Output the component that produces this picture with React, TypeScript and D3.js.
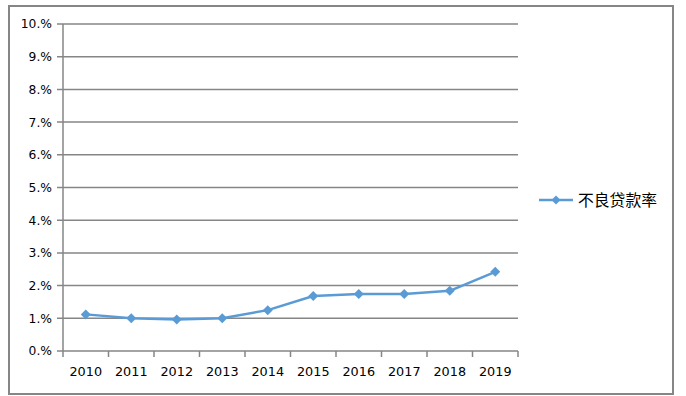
import * as d3 from "d3";

const years = ["2010", "2011", "2012", "2013", "2014", "2015", "2016", "2017", "2018", "2019"];
const nplRate = [1.12, 1.0, 0.96, 1.0, 1.25, 1.68, 1.74, 1.74, 1.84, 2.42];
const yTicks = [0, 1, 2, 3, 4, 5, 6, 7, 8, 9, 10];
const seriesName = "不良贷款率";

const gridColor = "#868686";
const lineColor = "#5B9BD5";

function Diamond({ x, y, r }: { x: number; y: number; r: number }) {
  return (
    <path
      d={`M${x},${y - r}L${x + r},${y}L${x},${y + r}L${x - r},${y}Z`}
      fill={lineColor}
    />
  );
}

export default function App() {
  const width = 686;
  const height = 396;
  const left = 63;
  const right = 518;
  const top = 24;
  const bottom = 351;

  const x = d3.scaleBand<string>().domain(years).range([left, right]);
  const y = d3.scaleLinear().domain([0, 10]).range([bottom, top]);

  const line = d3
    .line<number>()
    .x((_, i) => (x(years[i]) ?? 0) + x.bandwidth() / 2)
    .y((d) => y(d));

  const font = "'DejaVu Sans', Verdana, sans-serif";

  return (
    <svg
      width={width}
      height={height}
      style={{ position: "absolute", left: 0, top: 0, background: "#fff" }}
    >
      <rect x={9} y={6} width={664} height={388} fill="#fff" stroke={gridColor} strokeWidth={2} />

      {yTicks.map((t) => (
        <g key={t}>
          <line x1={left - 6} x2={right} y1={y(t)} y2={y(t)} stroke={gridColor} strokeWidth={1.5} />
          <text
            x={52}
            y={y(t)}
            dy="0.36em"
            textAnchor="end"
            fontFamily={font}
            fontSize={12.3}
            fill="#000"
          >
            {t}.%
          </text>
        </g>
      ))}

      <line x1={left} x2={left} y1={top} y2={bottom} stroke={gridColor} strokeWidth={1.5} />

      {years.map((yr, i) => (
        <g key={yr}>
          <line
            x1={left + x.step() * (i + 1)}
            x2={left + x.step() * (i + 1)}
            y1={bottom}
            y2={bottom + 6}
            stroke={gridColor}
            strokeWidth={1.5}
          />
          <text
            x={(x(yr) ?? 0) + x.bandwidth() / 2}
            y={376}
            textAnchor="middle"
            fontFamily={font}
            fontSize={12.8}
            fill="#000"
          >
            {yr}
          </text>
        </g>
      ))}
      <line x1={left} x2={left} y1={bottom} y2={bottom + 6} stroke={gridColor} strokeWidth={1.5} />

      <path d={line(nplRate) ?? ""} fill="none" stroke={lineColor} strokeWidth={2.5} strokeLinejoin="round" />
      {nplRate.map((v, i) => (
        <Diamond key={i} x={(x(years[i]) ?? 0) + x.bandwidth() / 2} y={y(v)} r={5} />
      ))}

      <g>
        <line x1={539} x2={573} y1={200} y2={200} stroke={lineColor} strokeWidth={2.5} />
        <Diamond x={556} y={200} r={4.5} />
        <text
          x={578}
          y={200}
          dy="0.36em"
          fontFamily="'Noto Sans CJK SC', sans-serif"
          fontSize={15.8}
          fill="#000"
        >
          {seriesName}
        </text>
      </g>
    </svg>
  );
}
